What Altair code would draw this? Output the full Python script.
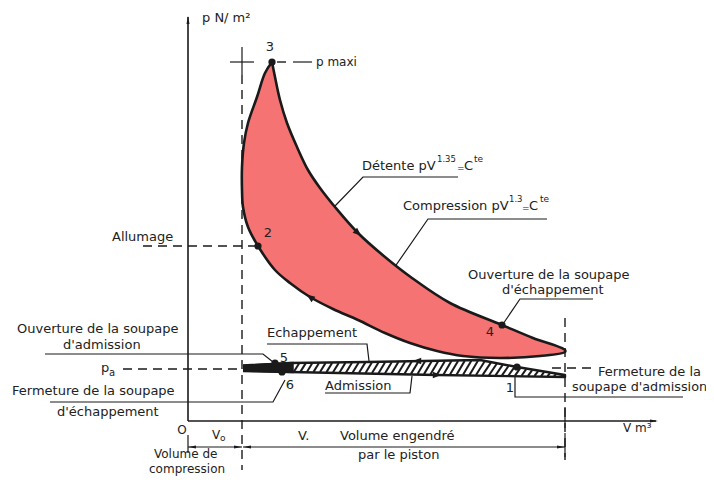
import altair as alt
import numpy as np
import pandas as pd

FONT = "DejaVu Sans"
RED = "#F67373"
INK = "#1a1a1a"

# Diagram units: V and p measured from the origin O (1 unit ~ 1 px of the drawing)
# ---- red work loop: expansion from 3 to the exhaust opening, then back along compression ----
exp_V = [84, 87, 92, 99, 109, 120, 132, 147, 170, 197, 224, 262, 314, 345, 377]
exp_p = [359, 344, 321, 298, 274, 251, 233, 214, 188, 164, 143, 118, 96, 83, 71]
low_V = [377, 352, 312, 275, 249, 222, 197, 170, 145, 122, 102, 87, 70, 60, 55, 54, 54, 56, 60, 69, 77, 84]
low_p = [69, 65, 63, 65, 70, 78, 88, 101, 112, 124, 138, 151, 175, 194, 214, 231, 254, 278, 298, 324, 348, 359]

# ---- pumping loop (hatched): exhaust line + start of compression, admission line ----
exh_V = [55, 102, 179, 292, 329, 377]
exh_p = [55, 58, 59, 61, 54, 46]
adm_V = [55, 102, 249, 377]
adm_p = [50, 49, 46, 44]
blk_V = [55, 105, 105, 55]
blk_p = [56, 58.5, 48.5, 50]

# ---- points 1..6 ----
pt_name = ["1", "2", "3", "4", "5", "6"]
pt_V = [329, 70, 84, 314, 87, 94]
pt_p = [54, 175, 359, 96, 58, 49]

# ---- arrows on the curves (V, p, direction in degrees) ----
arr_V = [170, 122, 229, 249]
arr_p = [188, 124, 60, 46]
arr_a = [132, 305, 270, 90]

# ---- line work ----
solid_thick = {
    "axe_p": ([0, 0], [0, 404]),
    "axe_V": ([0, 468], [0, 0]),
}
solid_thin = {
    "tick_O": ([0, 0], [-14, -32]),
    "dim_Vo": ([0, 54], [-26, -26]),
    "dim_V": ([55, 377], [-26, -26]),
    "tick_V1": ([377, 377], [14, -7]),
    "tick_V2": ([377, 377], [-12, -36]),
    "cross_pmax": ([42, 66], [359, 359]),
    "tick_top": ([54, 54], [374, 346]),
    "ld_ouv_adm": ([-143, 75, 85], [67, 67, 59]),
    "ld_ferm_ech": ([-138, 85, 97], [19, 19, 41]),
    "ld_ech": ([79, 179, 181], [77, 77, 60]),
    "ld_adm": ([137, 222, 224], [28, 28, 45]),
    "ld_ferm_adm": ([327, 327, 495], [52, 24, 24]),
    "ld_detente": ([270, 175, 147], [244, 244, 215]),
    "ld_compr": ([359, 240, 170], [202, 202, 101]),
    "ld_ouv_ech": ([405, 332, 315], [122, 122, 97]),
    "pmaxi_dash": ([105, 124], [359, 359]),
}
dashed = {
    "V0": ([54, 54], [346, -49]),
    "V1": ([377, 377], [103, -39]),
    "allumage": ([-45, 70], [175, 175]),
    "pa_left": ([-65, 55], [52, 52]),
    "pa_right": ([364, 406], [53, 53]),
    "pmaxi": ([89, 98], [359, 359]),
}

# ---- arrowheads of axes and dimension lines ----
head_V = [0, 466, 4, 50, 59, 373]
head_p = [401, 0, -26, -26, -26, -26]
head_a = [0, 90, 270, 90, 270, 90]

# ---- texts ----
txt_left = [
    ("p  N/ m²", 14, 403, 13),
    ("p maxi", 128, 359, 12),
    ("Allumage", -76, 184, 13),
    ("Détente  pV", 174, 255, 13), ("1.35", 249, 262, 8.5), ("=", 269, 253, 9), ("C", 276, 255, 13), ("te", 286, 262, 9),
    ("Compression  pV", 215, 215, 13), ("1.3", 321, 222, 8.5), ("=", 334, 213, 9), ("C", 341, 215, 13), ("te", 352, 222, 9),
    ("Ouverture de la soupape", 280, 146, 13),
    ("d'échappement", 314, 131, 13),
    ("Ouverture de la soupape", -171, 92, 13),
    ("d'admission", -125, 76, 13),
    ("Echappement", 79, 88, 13),
    ("p", -87, 53, 13), ("a", -79, 48, 10),
    ("Fermeture de la soupape", -176, 30, 13),
    ("d'échappement", -131, 9, 13),
    ("Admission", 137, 35, 13),
    ("Fermeture de la", 410, 49, 13),
    ("soupape d'admission", 384, 34, 12.8),
    ("V m³", 435, -7, 12),
    ("V", 24, -14, 12), ("o", 32, -17, 9),
    ("V.", 110, -15, 13),
    ("Volume engendré", 152, -15, 13),
    ("par le piston", 170, -34, 13),
    ("Volume de", -34, -33, 12),
    ("compression", -39, -48, 12),
]
txt_center = [
    ("3", 82, 374, 13), ("2", 80, 188, 13), ("4", 302, 89, 13),
    ("5", 96, 63, 13), ("6", 102, 36, 13), ("1", 322, 33, 13),
    ("O", -6, -9, 12),
]

# ================= build =================
W, H = 698, 468
xs = alt.Scale(domain=[-180, 518], nice=False, zero=False)
ys = alt.Scale(domain=[413 - H, 413], nice=False, zero=False)
X = alt.X("V:Q", scale=xs, axis=None)
Y = alt.Y("p:Q", scale=ys, axis=None)


def poly(V, p):
    return pd.DataFrame({"V": V, "p": p, "o": list(range(len(V)))})


def lines_df(d):
    rows = []
    for k, (vv, pp) in d.items():
        for i, (a, b) in enumerate(zip(vv, pp)):
            rows.append({"id": k, "o": i, "V": a, "p": b})
    return pd.DataFrame(rows)


red = alt.Chart(poly(exp_V + low_V, exp_p + low_p)).mark_line(
    fill=RED, stroke=INK, strokeWidth=2.6, interpolate="catmull-rom", strokeJoin="round"
).encode(x=X, y=Y, order="o:Q")

hatch_poly = alt.Chart(poly(exh_V + adm_V[::-1], exh_p + adm_p[::-1])).mark_line(
    fill="white", stroke=INK, strokeWidth=2.4, strokeJoin="round"
).encode(x=X, y=Y, order="o:Q")

# hatch stripes (decoration of the pumping loop)
rows = []
for x0 in np.arange(106, 372, 6.5):
    lo = np.interp(x0, adm_V, adm_p)
    up = np.interp(x0, exh_V, exh_p)
    if up - lo < 2:
        continue
    d = 0.55 * (up - lo)
    x1 = x0 + d
    up1 = np.interp(x1, exh_V, exh_p)
    lo1 = np.interp(x1, adm_V, adm_p)
    if up1 - lo1 < 1:
        continue
    rows.append({"V": x0, "p": lo + 0.6, "V2": x1, "p2": up1 - 0.6})
stripes = alt.Chart(pd.DataFrame(rows)).mark_rule(color=INK, strokeWidth=2).encode(
    x=X, y=Y, x2="V2:Q", y2="p2:Q"
)

black_part = alt.Chart(poly(blk_V, blk_p)).mark_line(fill=INK, stroke=INK, strokeWidth=1.5).encode(
    x=X, y=Y, order="o:Q"
)

thick = alt.Chart(lines_df(solid_thick)).mark_line(color=INK, strokeWidth=1.6).encode(
    x=X, y=Y, detail="id:N", order="o:Q"
)
thin = alt.Chart(lines_df(solid_thin)).mark_line(color=INK, strokeWidth=1.2).encode(
    x=X, y=Y, detail="id:N", order="o:Q"
)
dash = alt.Chart(lines_df(dashed)).mark_line(color=INK, strokeWidth=1.4, strokeDash=[9, 6]).encode(
    x=X, y=Y, detail="id:N", order="o:Q"
)

ARROW = "M0,-1L0.38,1L-0.38,1Z"
heads = alt.Chart(pd.DataFrame({"V": head_V, "p": head_p, "a": head_a})).mark_point(
    shape=ARROW, filled=True, color=INK, size=64, opacity=1
).encode(x=X, y=Y, angle=alt.Angle("a:Q", scale=None))

arrows = alt.Chart(pd.DataFrame({"V": arr_V, "p": arr_p, "a": arr_a})).mark_point(
    shape="M0,-1L0.8,1L-0.8,1Z", filled=True, color=INK, size=70, opacity=1
).encode(x=X, y=Y, angle=alt.Angle("a:Q", scale=None))

dots = alt.Chart(pd.DataFrame({"n": pt_name, "V": pt_V, "p": pt_p})).mark_circle(
    color=INK, size=52, opacity=1
).encode(x=X, y=Y)

tl = pd.DataFrame(txt_left, columns=["t", "V", "p", "s"])
tc = pd.DataFrame(txt_center, columns=["t", "V", "p", "s"])
texts_l = alt.Chart(tl).mark_text(align="left", baseline="middle", font=FONT, color="#222").encode(
    x=X, y=Y, text="t:N", size=alt.Size("s:Q", scale=None)
)
texts_c = alt.Chart(tc).mark_text(align="center", baseline="middle", font=FONT, color="#222").encode(
    x=X, y=Y, text="t:N", size=alt.Size("s:Q", scale=None)
)

chart = alt.layer(
    dash, thick, thin, hatch_poly, stripes, black_part, red, arrows, dots, heads, texts_l, texts_c
).properties(width=W, height=H, autosize="none", padding=0, background="white").configure_view(stroke=None)

chart.save("out.html", embed_options={"renderer": "svg", "actions": False})
